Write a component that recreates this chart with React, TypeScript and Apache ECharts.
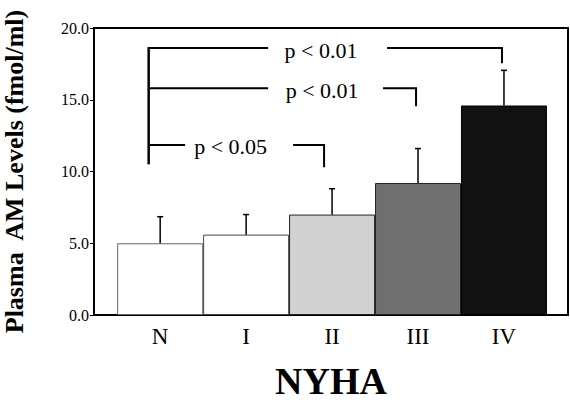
import React, { useEffect, useRef } from "react";
import * as echarts from "echarts";

// ---- data ----
const categories = ["N", "I", "II", "III", "IV"];
const meanValues = [5.0, 5.6, 7.0, 9.2, 14.6];
const errorTops = [6.85, 7.0, 8.8, 11.6, 17.05];
const yTicks = [0, 5, 10, 15, 20];
const bracketLabels = ["p < 0.01", "p < 0.01", "p < 0.05"];
const bracketTargets = [4, 3, 2];
const bracketLevels = [18.6, 15.8, 11.85];
const bracketDrops = [17.55, 14.55, 10.3];

// ---- styling / annotation layout (not data) ----
const barFills = ["#ffffff", "#ffffff", "#d2d2d2", "#6f6f6f", "#111111"];
const barBorders = ["#666666", "#444444", "#222222", "#222222", "#000000"];
const BRACKET_LEFT_X = -0.134;
const BRACKET_LEFT_BOTTOM = 10.5;
const bracketLayout = [
  { leftEnd: 1.256, textX: 1.872, rightStart: 2.64, dropX: 3.977 },
  { leftEnd: 1.256, textX: 1.884, rightStart: 2.593, dropX: 2.977 },
  { leftEnd: 0.29, textX: 0.82, rightStart: 1.547, dropX: 1.907 },
];

const SERIF = "'Liberation Serif', 'Times New Roman', serif";

export default function App() {
  const ref = useRef<HTMLDivElement>(null);

  useEffect(() => {
    document.body.style.margin = "0";
    if (!ref.current) return;
    const chart = echarts.init(ref.current, undefined, { renderer: "svg" });

    const barData = meanValues.map((v, i) => ({
      value: [i, v],
      itemStyle: { color: barFills[i], borderColor: barBorders[i], borderWidth: 1 },
    }));
    const errData = errorTops.map((e, i) => [i, meanValues[i], e]);

    const option: any = {
      animation: false,
      backgroundColor: "#ffffff",
      grid: {
        left: 94,
        right: 2,
        top: 28,
        bottom: 88,
        show: true,
        borderColor: "#000",
        borderWidth: 2,
        backgroundColor: "transparent",
        containLabel: false,
        outerBoundsMode: "none",
      },
      xAxis: {
        type: "value",
        min: -0.77,
        max: 4.745,
        name: "NYHA",
        nameLocation: "middle",
        nameGap: 47,
        nameTextStyle: {
          fontFamily: SERIF,
          fontWeight: "bold",
          fontSize: 38,
          lineHeight: 38,
          color: "#000",
        },
        axisLine: { show: true, onZero: false, lineStyle: { color: "#000", width: 2 } },
        axisTick: { show: false },
        splitLine: { show: false },
        axisLabel: {
          customValues: categories.map((_, i) => i),
          formatter: (v: number) => categories[Math.round(v)] ?? "",
          fontFamily: SERIF,
          fontSize: 23,
          color: "#000",
          margin: 10,
        },
      },
      yAxis: {
        type: "value",
        min: 0,
        max: 20,
        interval: 5,
        name: "Plasma  AM Levels (fmol/ml)",
        nameLocation: "middle",
        nameGap: 67,
        nameRotate: 90,
        nameTextStyle: { fontFamily: SERIF, fontWeight: "bold", fontSize: 26, color: "#000" },
        axisLine: { show: true, onZero: false, lineStyle: { color: "#000", width: 2 } },
        axisTick: { show: true, inside: false, length: 4, lineStyle: { color: "#000", width: 1 } },
        splitLine: { show: false },
        axisLabel: {
          formatter: (v: number) => (yTicks.includes(v) ? v.toFixed(1) : ""),
          fontFamily: SERIF,
          fontSize: 16,
          color: "#000",
          margin: 5,
        },
      },
      series: [
        {
          type: "bar",
          data: barData,
          barWidth: 86,
          z: 2,
        },
        {
          type: "custom",
          data: errData,
          z: 3,
          renderItem: (params: any, api: any) => {
            const x = api.value(0);
            const p0 = api.coord([x, api.value(1)]);
            const p1 = api.coord([x, api.value(2)]);
            const cap = 3;
            return {
              type: "group",
              children: [
                {
                  type: "line",
                  shape: { x1: p0[0], y1: p0[1], x2: p1[0], y2: p1[1] },
                  style: { stroke: "#000", lineWidth: 1.5 },
                },
                {
                  type: "line",
                  shape: { x1: p1[0] - cap, y1: p1[1], x2: p1[0] + cap, y2: p1[1] },
                  style: { stroke: "#000", lineWidth: 1.5 },
                },
              ],
            };
          },
        },
        {
          type: "custom",
          data: [[0, 0]],
          z: 4,
          renderItem: (params: any, api: any) => {
            const children: any[] = [];
            const topLevel = Math.max(...bracketLevels);
            const a = api.coord([BRACKET_LEFT_X, topLevel]);
            const b = api.coord([BRACKET_LEFT_X, BRACKET_LEFT_BOTTOM]);
            children.push({
              type: "line",
              shape: { x1: a[0], y1: a[1] - 1, x2: b[0], y2: b[1] },
              style: { stroke: "#000", lineWidth: 2.5 },
            });
            bracketLabels.forEach((label, k) => {
              const lay = bracketLayout[k];
              const lvl = bracketLevels[k];
              const l0 = api.coord([BRACKET_LEFT_X, lvl]);
              const l1 = api.coord([lay.leftEnd, lvl]);
              const r0 = api.coord([lay.rightStart, lvl]);
              const r1 = api.coord([lay.dropX, lvl]);
              const d = api.coord([lay.dropX, bracketDrops[k]]);
              const t = api.coord([lay.textX, lvl]);
              void bracketTargets[k];
              children.push({
                type: "line",
                shape: { x1: l0[0], y1: l0[1], x2: l1[0], y2: l1[1] },
                style: { stroke: "#000", lineWidth: 2 },
              });
              children.push({
                type: "polyline",
                shape: { points: [r0, r1, d] },
                style: { stroke: "#000", lineWidth: 2, fill: null },
              });
              children.push({
                type: "text",
                style: {
                  text: label,
                  x: t[0],
                  y: t[1] + 2,
                  align: "center",
                  verticalAlign: "middle",
                  fontFamily: SERIF,
                  fontSize: 22,
                  fill: "#000",
                },
              });
            });
            return { type: "group", children };
          },
        },
      ],
    };

    chart.setOption(option);
    return () => chart.dispose();
  }, []);

  return <div ref={ref} style={{ width: 570, height: 403 }} />;
}
